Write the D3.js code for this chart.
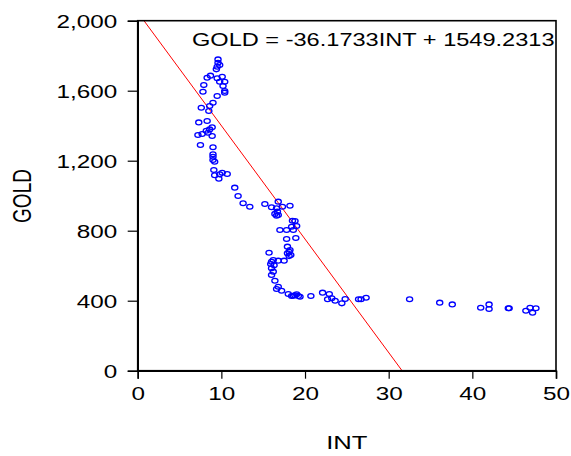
<!DOCTYPE html>
<html>
<head>
<meta charset="utf-8">
<script src="https://d3js.org/d3.v7.min.js"></script>
<style>
body { margin: 0; background: #fff; }
text { font-family: "Liberation Sans", Arial, sans-serif; fill: #000; }
</style>
</head>
<body>
<script>
// scatter of GOLD against INT
var intVals = [9.6,9.6,9.8,9.5,9.4,8.7,8.3,9.5,10.1,9.8,10.4,7.9,10.2,10.4,10.4,7.8,9.5,9.0,8.6,7.6,8.5,7.3,8.3,8.9,8.6,8.2,7.7,7.2,8.4,8.9,7.5,9.0,9.0,9.0,9.0,9.2,9.1,10.1,9.8,9.2,10.7,9.7,11.6,12.0,12.6,13.4,15.2,
    16.0,16.8,16.6,17.3,18.2,16.7,16.4,16.8,16.6,18.5,18.8,19.0,18.4,17.8,17.0,18.6,17.8,18.9,17.9,18.1,17.9,18.3,18.1,18.2,15.7,16.2,16.0,16.8,17.5,15.9,16.3,16.0,16.2,16.0,16.4,16.8,16.6,17.2,
    18.0,18.4,18.6,18.8,19.0,19.2,19.4,20.7,22.1,22.9,22.7,23.2,23.6,24.4,24.8,26.4,26.7,27.3,32.5,36.1,37.6,41.0,42.0,42.0,44.3,44.4,46.4,46.9,47.2,47.6];
var goldVals = [1779,1760,1747,1737,1722,1686,1674,1671,1680,1651,1651,1632,1627,1598,1589,1594,1570,1531,1513,1503,1484,1419,1427,1391,1379,1371,1353,1347,1360,1341,1290,1277,1237,1223,1204,1194,1147,1131,1122,1117,1124,1097,1046,998,957,937,953,
    934,966,928,937,943,909,896,890,886,857,855,827,823,804,804,804,753,758,709,680,671,661,655,690,674,633,623,629,629,610,602,585,566,547,514,480,467,457,
    438,427,428,431,437,427,423,427,446,438,408,414,400,385,410,408,408,417,408,389,379,360,379,353,357,357,343,360,331,357];

// fitted line as drawn (end points)
var lineInt = [0.75, 31.6];
var lineGold = [2000, 0];

var xTicks = [0, 10, 20, 30, 40, 50];
var yTicks = [0, 400, 800, 1200, 1600, 2000];
var equation = "GOLD = -36.1733INT + 1549.2313";

var w = 571, h = 456;
var pLeft = 137.7, pRight = 556, pTop = 20.7, pBottom = 370.7;
var sx = 1.35; // text in the picture is stretched sideways

var svg = d3.select("body").append("svg").attr("width", w).attr("height", h);

var x = d3.scaleLinear().domain([0, 50]).range([pLeft, pRight]);
var y = d3.scaleLinear().domain([0, 2000]).range([pBottom, pTop]);

// regression line
svg.append("line")
    .attr("x1", x(lineInt[0])).attr("y1", y(lineGold[0]))
    .attr("x2", x(lineInt[1])).attr("y2", y(lineGold[1]))
    .attr("stroke", "#ff0000").attr("stroke-width", 1);

// points
svg.selectAll("ellipse").data(intVals).enter().append("ellipse")
    .attr("cx", function(d){ return x(d); })
    .attr("cy", function(d,i){ return y(goldVals[i]); })
    .attr("rx", 3.1).attr("ry", 2.4)
    .attr("fill", "none").attr("stroke", "#0000ff").attr("stroke-width", 1.3);

// frame
svg.append("rect")
    .attr("x", pLeft).attr("y", pTop)
    .attr("width", pRight - pLeft).attr("height", pBottom - pTop)
    .attr("fill", "none").attr("stroke", "#000").attr("stroke-width", 1.6);

var gx = svg.append("g").attr("transform", "translate(0," + pBottom + ")")
    .call(d3.axisBottom(x).tickValues(xTicks).tickSize(8).tickFormat(d3.format("d")));
var gy = svg.append("g").attr("transform", "translate(" + pLeft + ",0)")
    .call(d3.axisLeft(y).tickValues(yTicks).tickSize(10).tickFormat(d3.format(",")));

[gx, gy].forEach(function(g){
    g.select(".domain").attr("stroke", "#000").attr("stroke-width", 1.6);
    g.selectAll(".tick line").attr("stroke", "#000").attr("stroke-width", 1.2);
    g.selectAll("text").attr("font-size", 18).attr("font-family", null);
});

gx.selectAll(".tick text")
    .attr("y", 0).attr("dy", null)
    .attr("transform", "translate(0,29.5) scale(" + sx + ",1)");
gy.selectAll(".tick text")
    .attr("x", 0).attr("dy", "0.35em")
    .attr("transform", "translate(-20.4,0) scale(" + sx + ",1)");

// axis titles
svg.append("text")
    .attr("transform", "translate(" + ((pLeft + pRight) / 2) + ",449) scale(" + sx + ",1)")
    .attr("text-anchor", "middle").attr("font-size", 19).text("INT");
svg.append("text")
    .attr("transform", "translate(31,196) rotate(-90) scale(1," + sx + ")")
    .attr("text-anchor", "middle").attr("font-size", 19).text("GOLD");

// equation
svg.append("text")
    .attr("transform", "translate(192,46) scale(1.31,1)")
    .attr("font-size", 18).text(equation);
</script>
</body>
</html>
